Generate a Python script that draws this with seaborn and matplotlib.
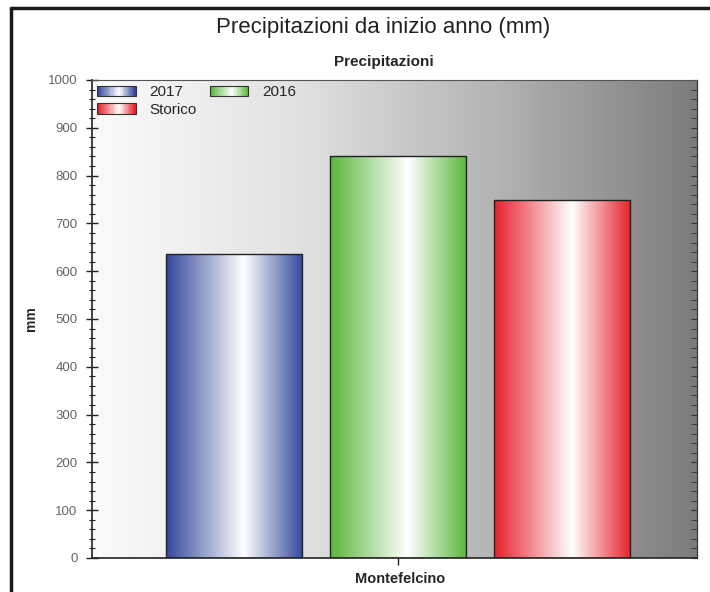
import numpy as np
import pandas as pd
import seaborn as sns
import matplotlib.pyplot as plt
from matplotlib.colors import LinearSegmentedColormap
from matplotlib.legend_handler import HandlerBase
from matplotlib.patches import Rectangle
from matplotlib.lines import Line2D
from matplotlib.ticker import MultipleLocator

# Data
stazione = ['Montefelcino']
serie = ['2017', '2016', 'Storico']
valori = [635, 840, 748]
colori = ['#34489c', '#5bb63b', '#e5222b']

df = pd.DataFrame({'stazione': stazione * len(serie), 'serie': serie, 'mm': valori})

sns.set_style('white')
plt.rcParams['font.family'] = ['Liberation Sans', 'DejaVu Sans']


def gradient_cmap(c):
    return LinearSegmentedColormap.from_list('g', [(0, c), (0.57, '#ffffff'), (1, c)], N=256)


class HandlerGradient(HandlerBase):
    # legend key drawn as thin stripes to mimic the shaded bars
    def create_artists(self, legend, orig_handle, xdescent, ydescent,
                       width, height, fontsize, trans):
        cmap = gradient_cmap(orig_handle.get_facecolor())
        n = 30
        arts = []
        for i in range(n):
            r = Rectangle((-xdescent + width * i / n, -ydescent), width / n + 0.3, height,
                          facecolor=cmap(i / (n - 1)), edgecolor='none', transform=trans)
            arts.append(r)
        arts.append(Rectangle((-xdescent, -ydescent), width, height, facecolor='none',
                              edgecolor='#333333', lw=0.8, transform=trans))
        return arts


fig = plt.figure(figsize=(7.1, 5.92), dpi=100)
ax = fig.add_axes([92 / 710, 1 - 558 / 592, 605 / 710, 478 / 592])

sns.barplot(data=df, x='stazione', y='mm', hue='serie', palette=colori,
            width=0.813, gap=0.17, legend=False, ax=ax, zorder=2)

# background gradient white -> grey
bg = np.linspace(0, 1, 256).reshape(1, -1)
bg_cmap = LinearSegmentedColormap.from_list('bg', ['#fbfbfb', '#e2e2e2', '#b4b4b4', '#7c7c7c'])
ax.imshow(bg, extent=(0, 1, 0, 1), transform=ax.transAxes, aspect='auto',
          cmap=bg_cmap, zorder=0)

# shaded bars
grad = np.linspace(0, 1, 256).reshape(1, -1)
for patch, c in zip(ax.patches, colori):
    x, y = patch.get_x(), patch.get_y()
    w, h = patch.get_width(), patch.get_height()
    ax.imshow(grad, extent=(x, x + w, y, y + h), aspect='auto',
              cmap=gradient_cmap(c), zorder=2)
    patch.set_facecolor('none')
    patch.set_edgecolor('#222222')
    patch.set_linewidth(1.0)
    patch.set_zorder(3)

ax.set_xlim(-0.506, 0.494)
ax.set_ylim(0, 1000)
ax.yaxis.set_major_locator(MultipleLocator(100))
ax.yaxis.set_minor_locator(MultipleLocator(20))
ax.tick_params(axis='y', which='major', direction='inout', length=9, width=1,
               left=True, colors='#222222', labelcolor='#666666', labelsize=9.5, pad=6)
ax.tick_params(axis='y', which='minor', direction='inout', length=5, width=0.8,
               left=True, colors='#222222')
ax.tick_params(axis='x', which='major', direction='out', length=5, width=1,
               bottom=True, colors='#222222', labelbottom=False)

sec = ax.secondary_yaxis('right')
sec.yaxis.set_major_locator(MultipleLocator(100))
sec.yaxis.set_minor_locator(MultipleLocator(20))
sec.tick_params(which='both', direction='in', length=4, colors='#333333', labelright=False)
sec.spines['right'].set_color('#333333')

for s in ['left', 'bottom']:
    ax.spines[s].set_color('#222222')
    ax.spines[s].set_linewidth(1.2)
ax.spines['top'].set_color('#555555')
ax.spines['right'].set_color('#333333')

ax.set_xlabel('Montefelcino', fontsize=10.5, fontweight='bold', labelpad=5, x=0.509)
ax.set_ylabel('mm', fontsize=10, fontweight='bold', labelpad=7)
ax.set_title('Precipitazioni', fontsize=11, fontweight='bold', pad=10, x=0.483)

# column-wise fill: 2017 / Storico in first column, 2016 in second
order = [0, 2, 1]
handles = [Rectangle((0, 0), 1, 1, facecolor=colori[i]) for i in order]
labels = [serie[i] for i in order]
ax.legend(handles, labels, handler_map={Rectangle: HandlerGradient()}, ncol=2,
          loc='upper left', bbox_to_anchor=(0.0, 1.0), frameon=False,
          fontsize=11, handlelength=2.5, handleheight=0.7, labelspacing=0.25,
          columnspacing=0.9, handletextpad=0.9, borderaxespad=0.2, borderpad=0.15)

fig.suptitle('Precipitazioni da inizio anno (mm)', fontsize=16, x=0.54, y=0.972,
             color='#222222')

# page frame lines
fig.add_artist(Line2D([11 / 710, 11 / 710], [0, 1 - 8 / 592], color='#1a1a1a', lw=2.5,
                      transform=fig.transFigure))
fig.add_artist(Line2D([11 / 710, 1], [1 - 8 / 592, 1 - 8 / 592], color='#1a1a1a', lw=2.5,
                      transform=fig.transFigure))

fig.savefig('out.png', dpi=100)
